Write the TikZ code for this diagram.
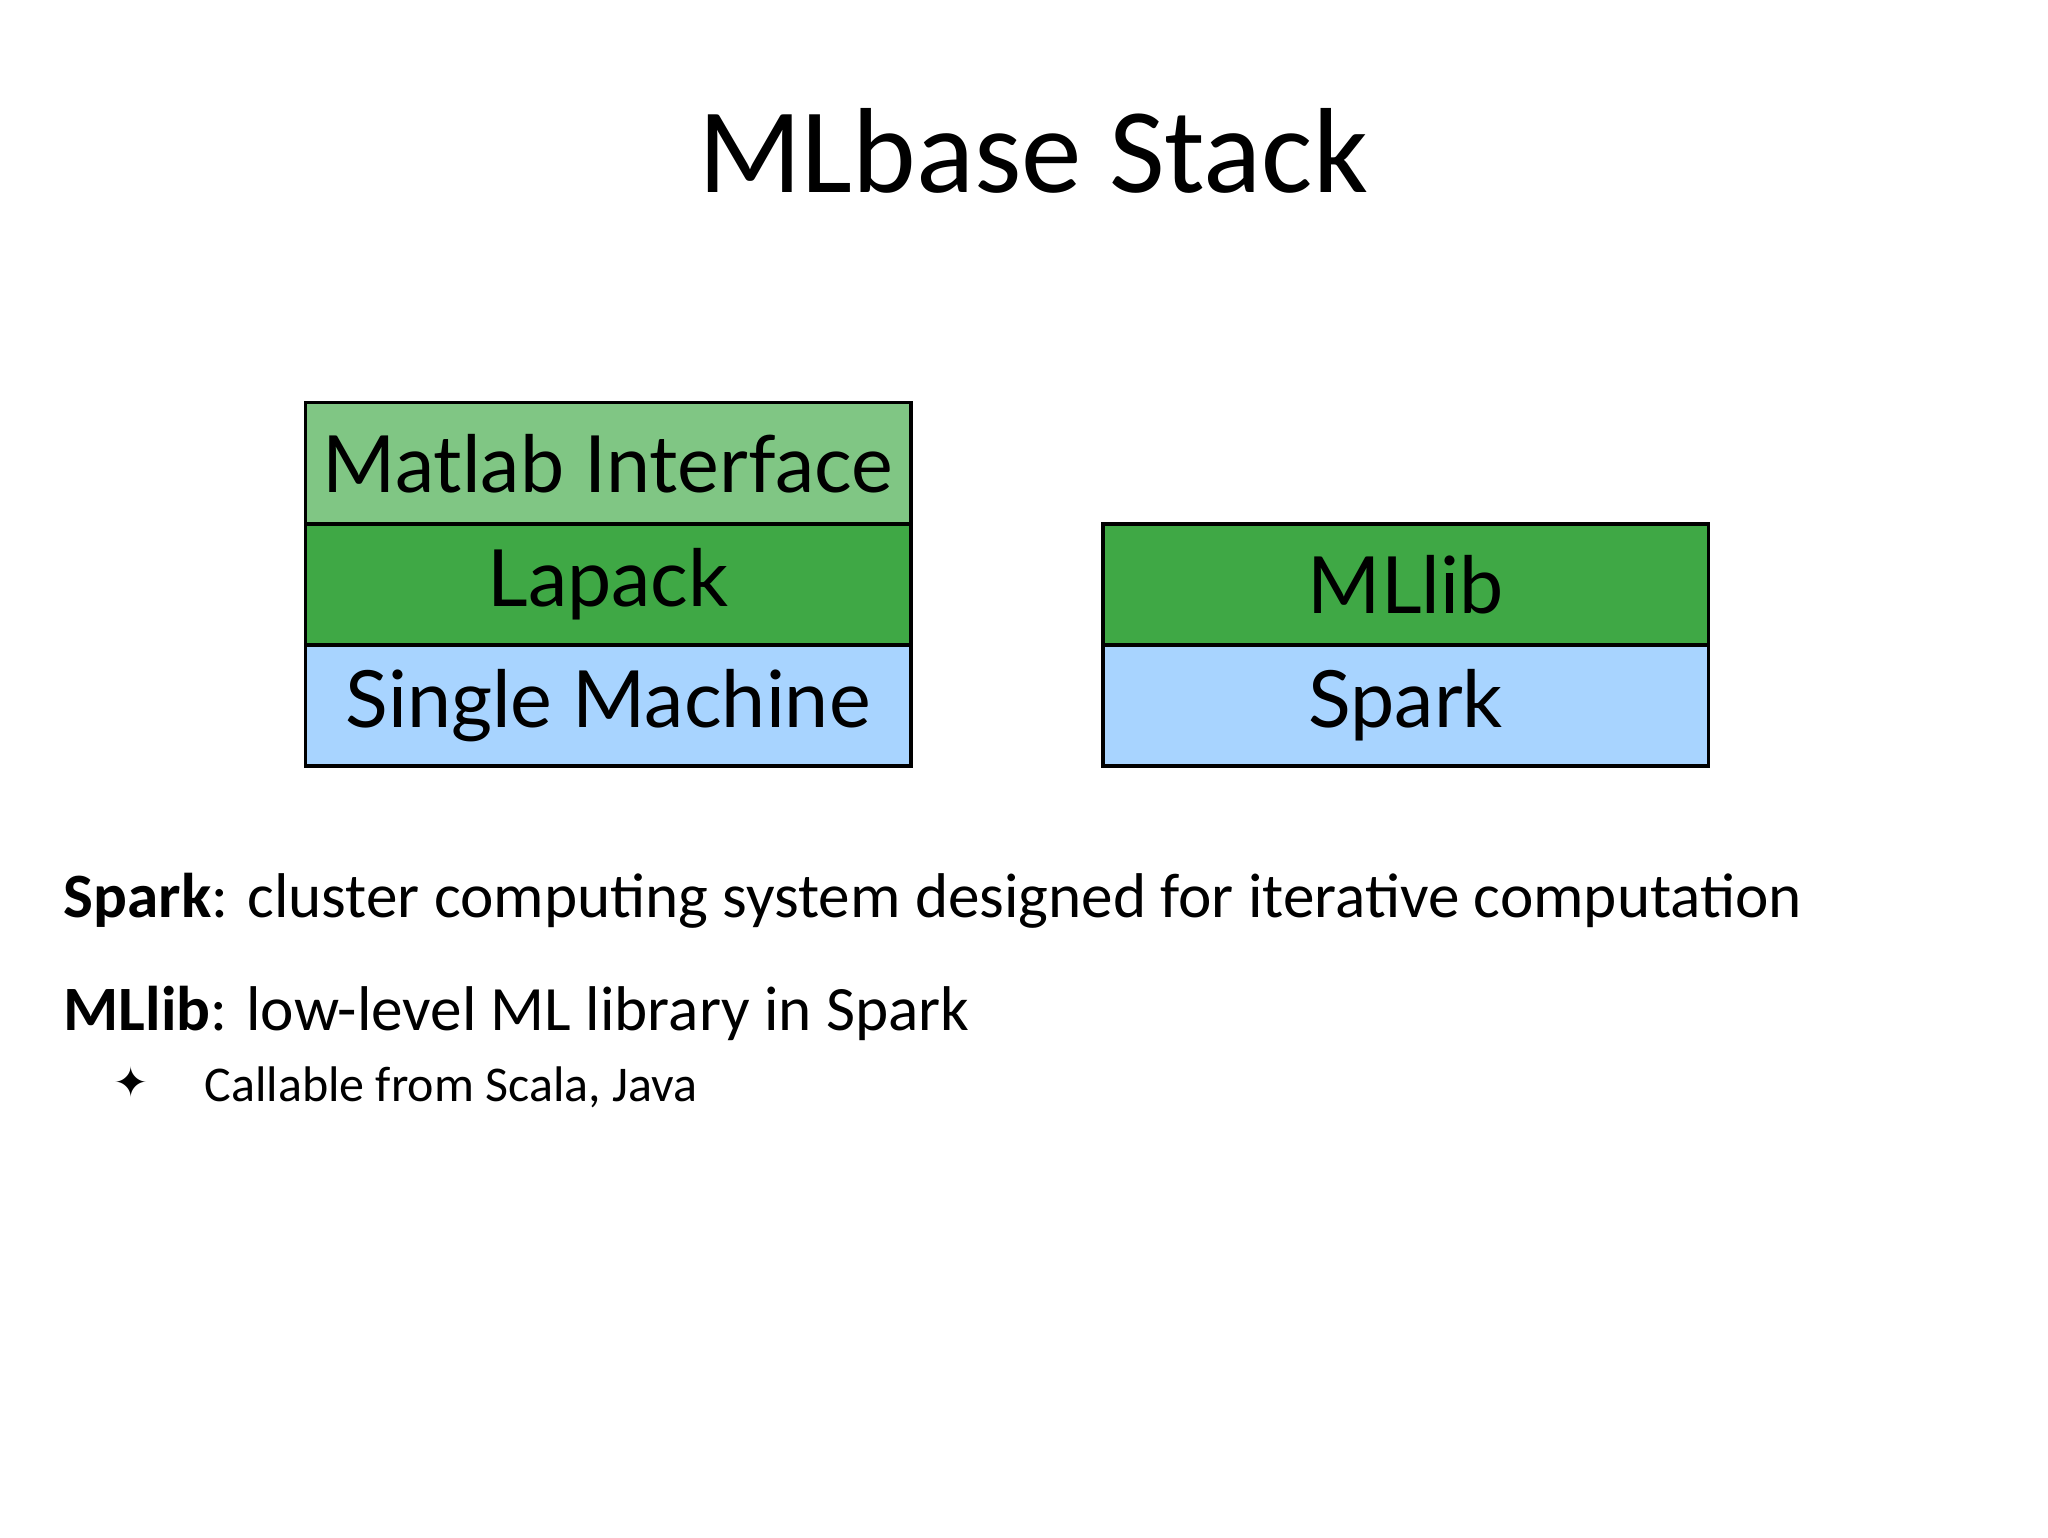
\documentclass[tikz,border=0pt]{standalone}
\usepackage{fontspec}
\setmainfont{Carlito}
\newfontfamily\boxfont{Lato}
\newfontfamily\djv{DejaVu Sans}
\definecolor{lgreen}{HTML}{80C684}
\definecolor{dgreen}{HTML}{3FA845}
\definecolor{lblue}{HTML}{A8D4FF}
\begin{document}
\begin{tikzpicture}[x=0.5pt,y=-0.5pt,
  layer/.style={draw=black,line width=1.3pt,minimum width=230pt,minimum height=46pt,inner sep=0pt,font=\boxfont\fontsize{30}{32}\selectfont},
  body/.style={anchor=base west,inner sep=0pt,font=\fontsize{24}{28}\selectfont}]
\useasboundingbox (0,0) rectangle (1556,1168);
\node[anchor=base,inner sep=0pt,font=\fontsize{46}{50}\selectfont] (title) at (785,146) {MLbase Stack};
\node[layer,fill=lgreen] (matlab) at (462,352) {Matlab Interface};
\node[layer,fill=dgreen] (lapack) at (462,444) {Lapack};
\node[layer,fill=lblue] (single) at (462,536) {Single Machine};
\node[layer,fill=dgreen] (mllib) at (1068,444) {MLlib};
\node[layer,fill=lblue] (spark) at (1068,536) {Spark};
\node[body] (l1) at (48,697) {\textbf{Spark}: cluster computing system designed for iterative computation};
\node[body] (l2) at (48,783) {\textbf{MLlib}: low-level ML library in Spark};
\node[body,font=\djv\fontsize{16}{18}\selectfont] (b) at (86,834) {✦};
\node[body,font=\fontsize{19}{22}\selectfont] (l3) at (155,837) {Callable from Scala, Java};
\end{tikzpicture}
\end{document}
